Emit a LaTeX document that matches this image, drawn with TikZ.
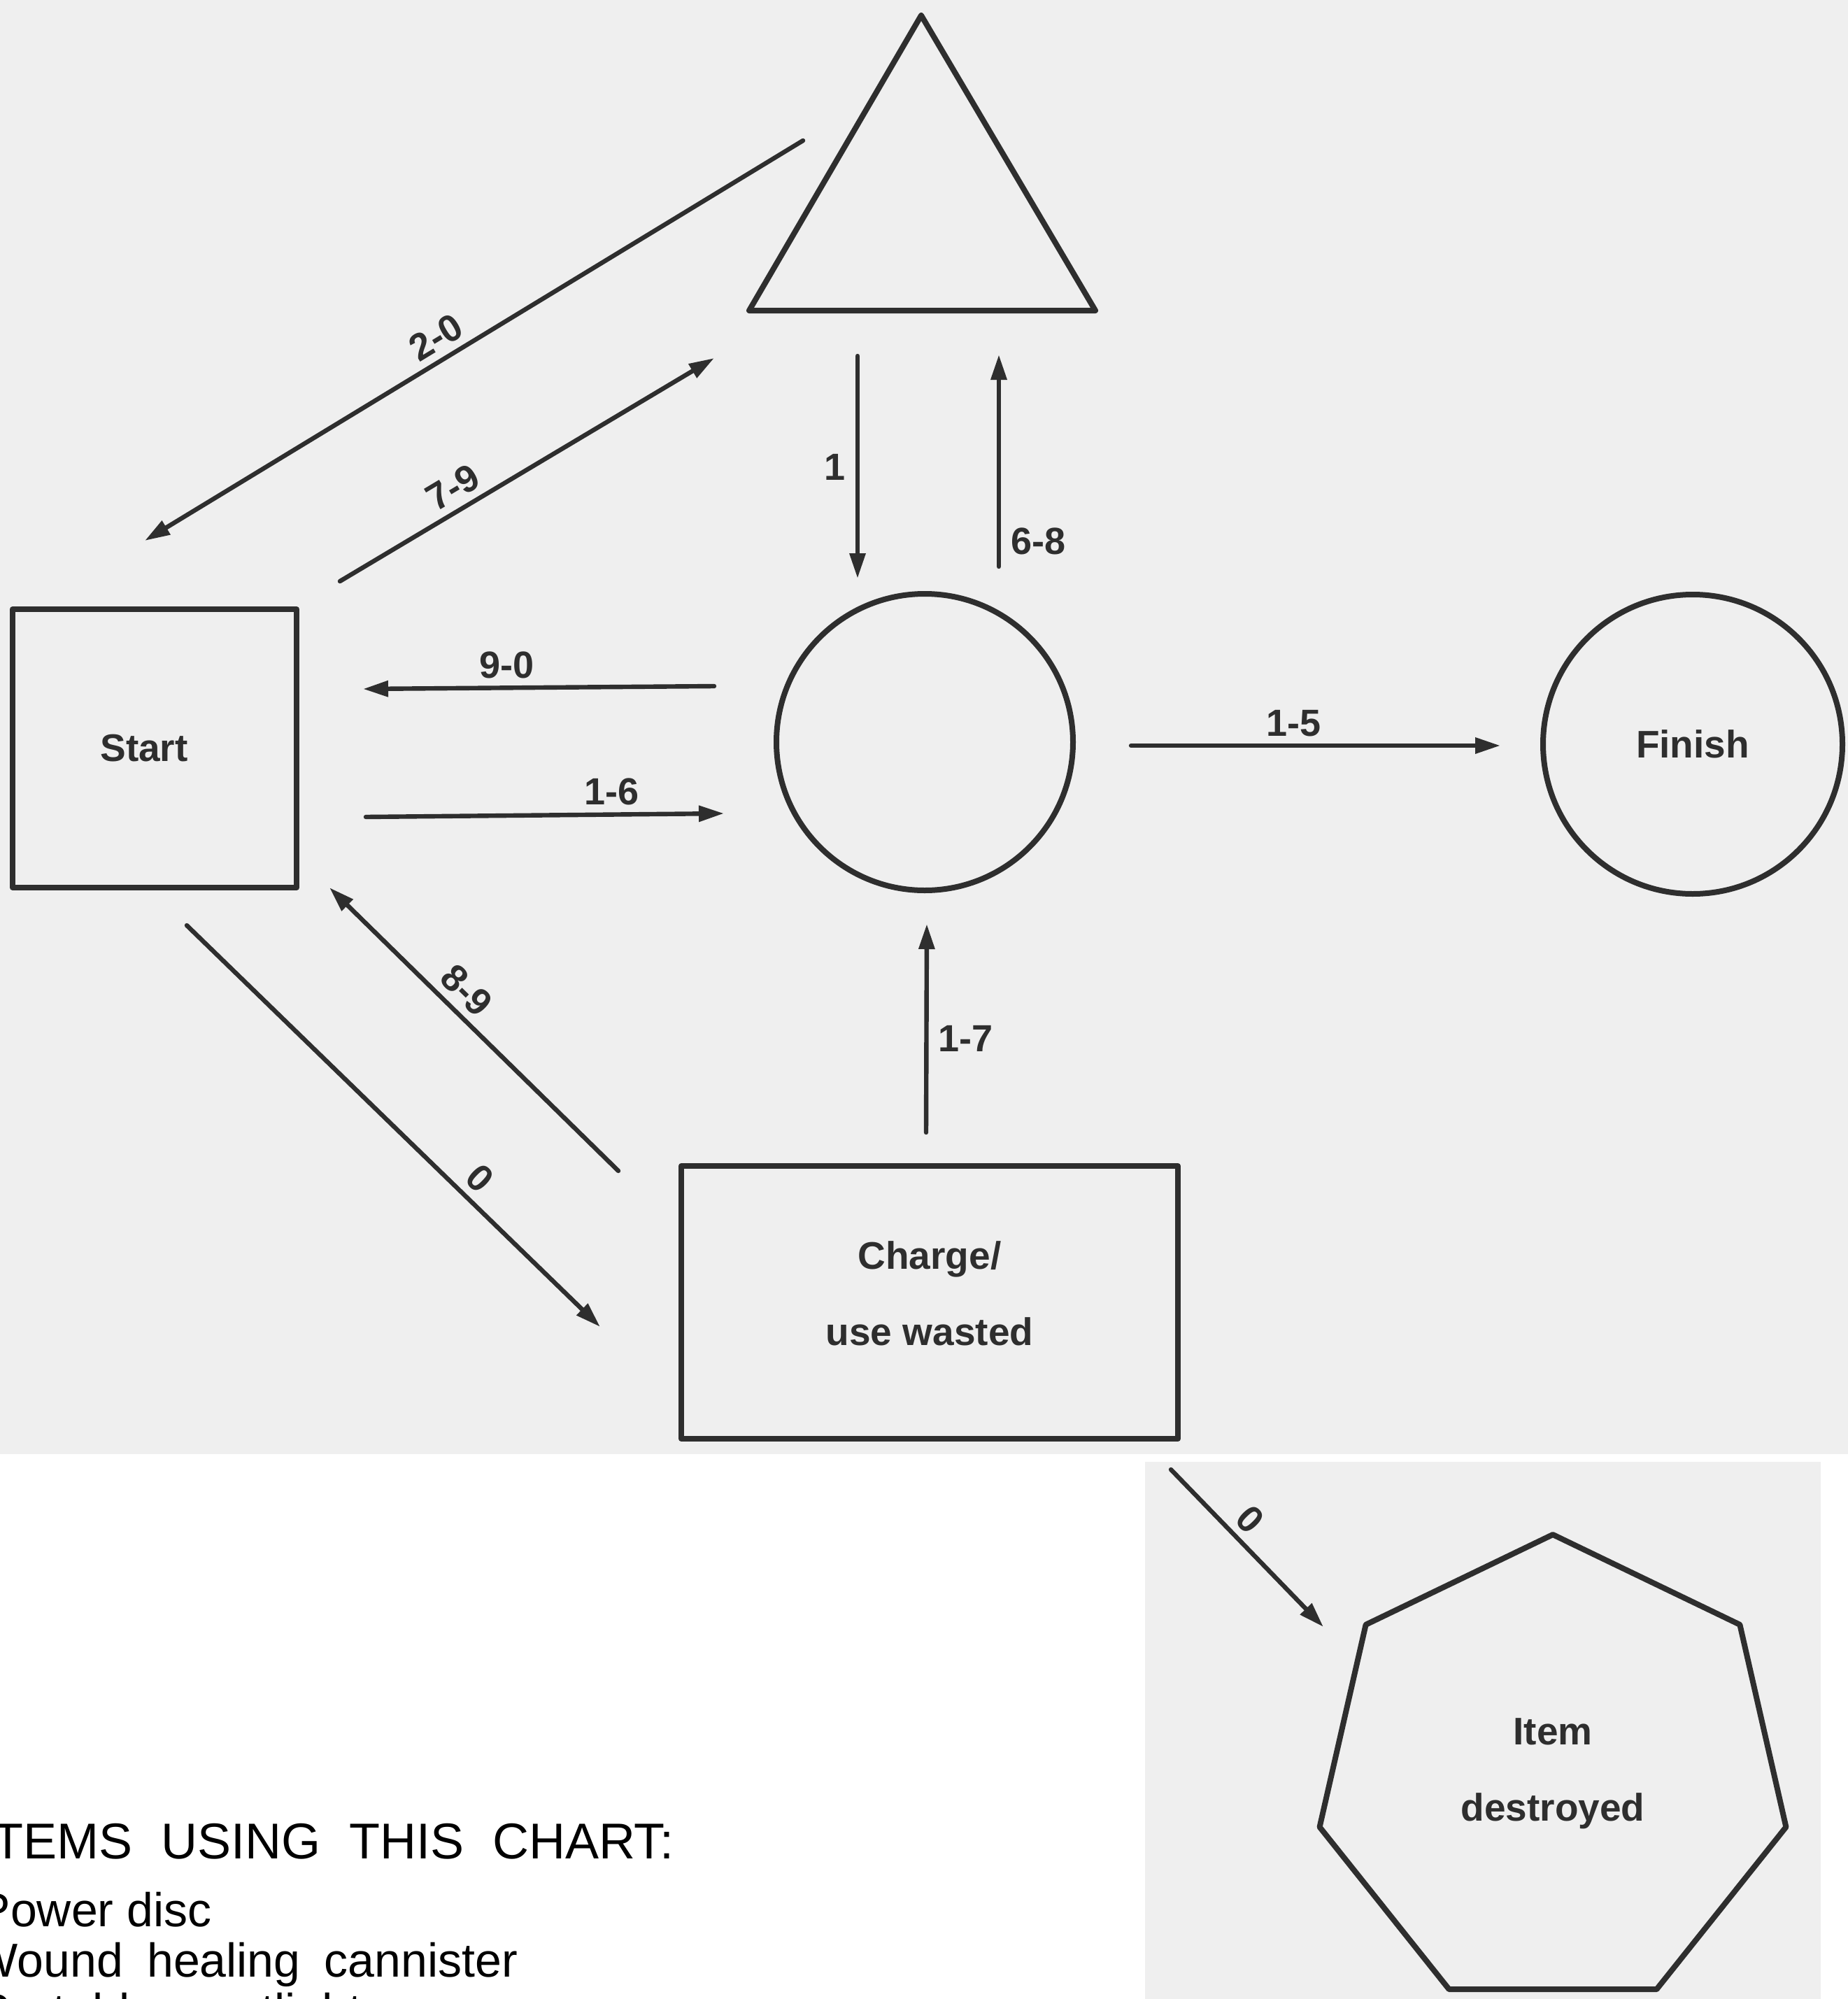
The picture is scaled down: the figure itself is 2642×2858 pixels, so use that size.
\documentclass[tikz,border=0pt]{standalone}
\usepackage{fontspec}
\setmainfont{Liberation Sans}
\usetikzlibrary{shapes.geometric, arrows.meta}
\definecolor{paper}{HTML}{EFEFEF}
\definecolor{ink}{HTML}{2E2E2E}
\begin{document}
\begin{tikzpicture}[x=0.25pt, y=-0.25pt,
  shapeline/.style={draw=ink, line width=2pt, line join=round},
  boxnode/.style={shapeline, rectangle, inner sep=0pt, text=ink, align=center,
    font=\bfseries\fontsize{13.75pt}{27.25pt}\selectfont},
  circnode/.style={shapeline, circle, inner sep=0pt, text=ink,
    font=\bfseries\fontsize{13.75pt}{16pt}\selectfont},
  heptnode/.style={shapeline, regular polygon, regular polygon sides=7, inner sep=0pt,
    text=ink, align=center, font=\bfseries\fontsize{13.75pt}{27.25pt}\selectfont},
  arr/.style={draw=ink, line width=1.6pt, line cap=round, -{Triangle[length=9pt,width=5.5pt]}},
  lab/.style={font=\bfseries\fontsize{13.5pt}{16pt}\selectfont, text=ink, inner sep=2.5pt},
  sidelab/.style={font=\bfseries\fontsize{13.5pt}{16pt}\selectfont, text=ink, inner sep=3.5pt},
  itemtext/.style={anchor=base west, inner sep=0pt, text=black}
]
\path[use as bounding box] (0,0) rectangle (2642,2858);
\clip (0,0) rectangle (2642,2858);
% paper
\fill[white] (0,0) rectangle (2642,2858);
\fill[paper] (0,0) rectangle (2642,2079);
\fill[paper] (1637,2090) rectangle (2603,2858);

% shapes
\coordinate (tApex) at (1317,22);
\coordinate (tLeft) at (1071,444);
\coordinate (tRight) at (1566,444);
\draw[shapeline] (tApex) -- (tLeft) -- (tRight) -- cycle;

\node[boxnode, minimum width=101.5pt, minimum height=99.5pt] (start) at (221,1070) {Start\hspace*{7.5pt}};
\node[circnode, minimum size=106pt] (mid) at (1322,1061) {};
\node[circnode, minimum size=107pt] (finish) at (2420,1064) {Finish};
\node[boxnode, minimum width=177.5pt, minimum height=97.5pt, text depth=6.5pt] (charge) at (1329,1862) {Charge/\\use wasted};
\node[heptnode, minimum size=171pt] (hept) at (2220,2536) {Item\\destroyed};

% arrow end points
\coordinate (p20a) at (1148,201);  \coordinate (p20b) at (207,773);
\coordinate (p79a) at (486,831);   \coordinate (p79b) at (1021,512);
\coordinate (p1a) at (1226,509);   \coordinate (p1b) at (1226,827);
\coordinate (p68a) at (1428,810);  \coordinate (p68b) at (1428,507);
\coordinate (p90a) at (1021,981);  \coordinate (p90b) at (519,985);
\coordinate (p16a) at (523,1168);  \coordinate (p16b) at (1035,1163);
\coordinate (p15a) at (1617,1066); \coordinate (p15b) at (2145,1066);
\coordinate (p89a) at (884,1674);  \coordinate (p89b) at (471,1269);
\coordinate (p0aa) at (267,1323);  \coordinate (p0ab) at (858,1897);
\coordinate (p17a) at (1324,1619); \coordinate (p17b) at (1325,1321);
\coordinate (p0ba) at (1674,2101); \coordinate (p0bb) at (1892,2326);

% arrows
\draw[arr] (p20a) -- node[lab, pos=0.54, above, sloped] {2-0} (p20b);
\draw[arr] (p79a) -- node[lab, pos=0.333, above, sloped] {7-9} (p79b);
\draw[arr] (p1a) -- node[sidelab, pos=0.5, left] {1} (p1b);
\draw[arr] (p68a) -- node[sidelab, pos=0.12, right] {6-8} (p68b);
\draw[arr] (p90a) -- node[lab, pos=0.59, above] {9-0} (p90b);
\draw[arr] (p16a) -- node[lab, pos=0.686, above] {1-6} (p16b);
\draw[arr] (p15a) -- node[lab, pos=0.44, above] {1-5} (p15b);
\draw[arr] (p89a) -- node[lab, pos=0.58, above, sloped] {8-9} (p89b);
\draw[arr] (p0aa) -- node[lab, pos=0.671, above, sloped] {0} (p0ab);
\draw[arr] (p17a) -- node[sidelab, pos=0.45, right] {1-7} (p17b);
\draw[arr] (p0ba) -- node[lab, pos=0.415, above, sloped] {0} (p0bb);

% items list
\node[itemtext, font=\fontsize{18pt}{20pt}\selectfont] (title) at (-31,2657)
  {ITEMS\hspace{10.2pt}USING\hspace{10.2pt}THIS\hspace{10.2pt}CHART:};
\node[itemtext, font=\fontsize{17pt}{20pt}\selectfont] (item1) at (-31,2754) {Power disc};
\node[itemtext, font=\fontsize{17pt}{20pt}\selectfont] (item2) at (-39,2826)
  {Wound\hspace{8.6pt}healing\hspace{8.6pt}cannister};
\node[itemtext, font=\fontsize{17pt}{20pt}\selectfont] (item3) at (-31,2898)
  {Portable\hspace{10.2pt}spotlight};
\end{tikzpicture}
\end{document}
